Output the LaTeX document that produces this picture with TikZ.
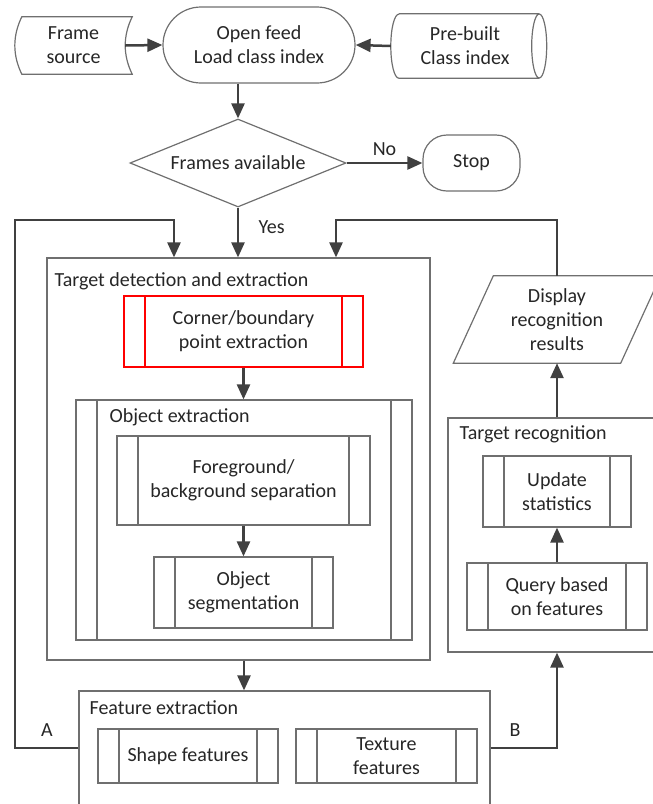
\documentclass[tikz,border=0pt]{standalone}
\usepackage{fontspec}
\setmainfont{Carlito}
\usetikzlibrary{arrows.meta,shapes.geometric}
\definecolor{rim}{HTML}{6F6F6F}
\definecolor{flow}{HTML}{404040}
\definecolor{ink}{HTML}{262626}
\begin{document}
\begin{tikzpicture}[x=1pt,y=-1pt,font=\fontsize{20}{24}\selectfont,text=ink,
  every node/.style={align=center},
  box/.style={draw=rim,line width=1.2pt,inner sep=0pt},
  sub/.style={box,draw=#1,path picture={\draw[#1] ([xshift=21pt]path picture bounding box.north west) -- ([xshift=21pt]path picture bounding box.south west) ([xshift=-21pt]path picture bounding box.north east) -- ([xshift=-21pt]path picture bounding box.south east);}},
  sub/.default=rim,
  title/.style={anchor=west,inner sep=0pt},
  arr/.style={draw=flow,line width=2.5pt,-{Triangle[length=15pt,width=13pt]}}]
  \useasboundingbox (0,0) rectangle (653,804);
  \clip (0,0) rectangle (653,804);
  \node[minimum width=117pt,minimum height=57pt,inner sep=0pt] (src) at (73.5,45.5) {Frame\\source};
  \draw[box] ([xshift=7pt]src.north west) -- (src.north east) .. controls +(-9.3,19) and +(-9.3,-19) .. (src.south east) -- ([xshift=7pt]src.south west) .. controls +(-9.3,-19) and +(-9.3,19) .. ([xshift=7pt]src.north west) -- cycle;
  \node[box,rounded corners=38pt,minimum width=192pt,minimum height=76pt] (feed) at (259,45) {Open feed\\Load class index};
  \node[minimum width=148pt,minimum height=64pt,inner sep=0pt] (idx) at (465,46) {Pre-built\\Class index};
  \draw[box] ([xshift=8pt]idx.north west) -- (idx.north east) (idx.east) ellipse [x radius=7.5,y radius=32] (idx.south east) -- ([xshift=8pt]idx.south west) arc[start angle=90,end angle=270,x radius=8,y radius=32];
  \node[box,diamond,aspect=2.45,minimum width=216pt,minimum height=88pt] (avail) at (238,163) {Frames available};
  \node[box,rounded corners=24pt,minimum width=97pt,minimum height=56pt] (stop) at (471.5,163) {Stop};

  \node[box,minimum width=383pt,minimum height=402pt] (det) at (238.5,459) {};
  \node[title] (dett) at ([shift={(8,24)}]det.north west) {Target detection and extraction};
  \node[sub=red,line width=2pt,minimum width=239pt,minimum height=71pt] (corner) at (243.5,331.5) {Corner/boundary\\point extraction};
  \node[sub,minimum width=336pt,minimum height=240pt] (objx) at (244,520) {};
  \node[title] (objt) at ([shift={(34,18)}]objx.north west) {Object extraction};
  \node[sub,minimum width=253pt,minimum height=89pt] (fg) at (243.5,480.5) {Foreground/\\background separation};
  \node[sub,minimum width=179pt,minimum height=71pt] (seg) at (243.5,592.5) {Object\\segmentation};

  \node[box,minimum width=411pt,minimum height=140pt] (feat) at (284.5,761) {};
  \node[title] (featt) at ([shift={(11,17)}]feat.north west) {Feature extraction};
  \node[sub,minimum width=180pt,minimum height=54pt] (shape) at (188,756) {Shape features};
  \node[sub,minimum width=181pt,minimum height=54pt] (tex) at (386.5,756) {Texture\\features};

  \node[box,minimum width=218pt,minimum height=234pt] (rec) at (557,535) {};
  \node[title] (rect) at ([shift={(12,17)}]rec.north west) {Target recognition};
  \node[sub,minimum width=148pt,minimum height=71pt] (upd) at (557,491.5) {Update\\statistics};
  \node[sub,minimum width=180pt,minimum height=67pt] (qry) at (557,596.5) {Query based\\on features};
  \node[minimum width=167pt,minimum height=87pt,inner sep=0pt] (disp) at (557,319.5) {Display\\recognition\\results};
  \draw[box] ([xshift=20pt]disp.north west) -- ([xshift=20pt]disp.north east) -- ([xshift=-20pt]disp.south east) -- ([xshift=-20pt]disp.south west) -- cycle;

  \node (la) at (47,730) {A};
  \node (lb) at (515,730) {B};

  \draw[arr] ([xshift=-7pt]src.east) -- (feed.west);
  \draw[arr] (idx.west) -- (feed.east);
  \draw[arr] (avail.north |- feed.south) -- (avail.north);
  \draw[arr] (avail.east) -- (stop.west) node[midway,above=3pt] (no) {No};
  \draw[arr] (avail.south) -- (avail.south |- det.north) node[pos=0.4,right=16pt] (yes) {Yes};
  \draw[arr] ([yshift=13pt]feat.west) -| (15,220) -| ([xshift=-64.5pt]det.north);
  \draw[arr] (disp.north) -- ++(0,-56) -| ([xshift=97.5pt]det.north);
  \draw[arr] (corner.south) -- (corner.south |- objx.north);
  \draw[arr] (fg.south) -- (seg.north);
  \draw[arr] (objx.south |- det.south) -- (objx.south |- feat.north);
  \draw[arr] ([yshift=13pt]feat.east) -| (rec.south);
  \draw[arr] (qry.north) -- (upd.south);
  \draw[arr] (rec.north) -- (rec.north |- disp.south);
\end{tikzpicture}
\end{document}
